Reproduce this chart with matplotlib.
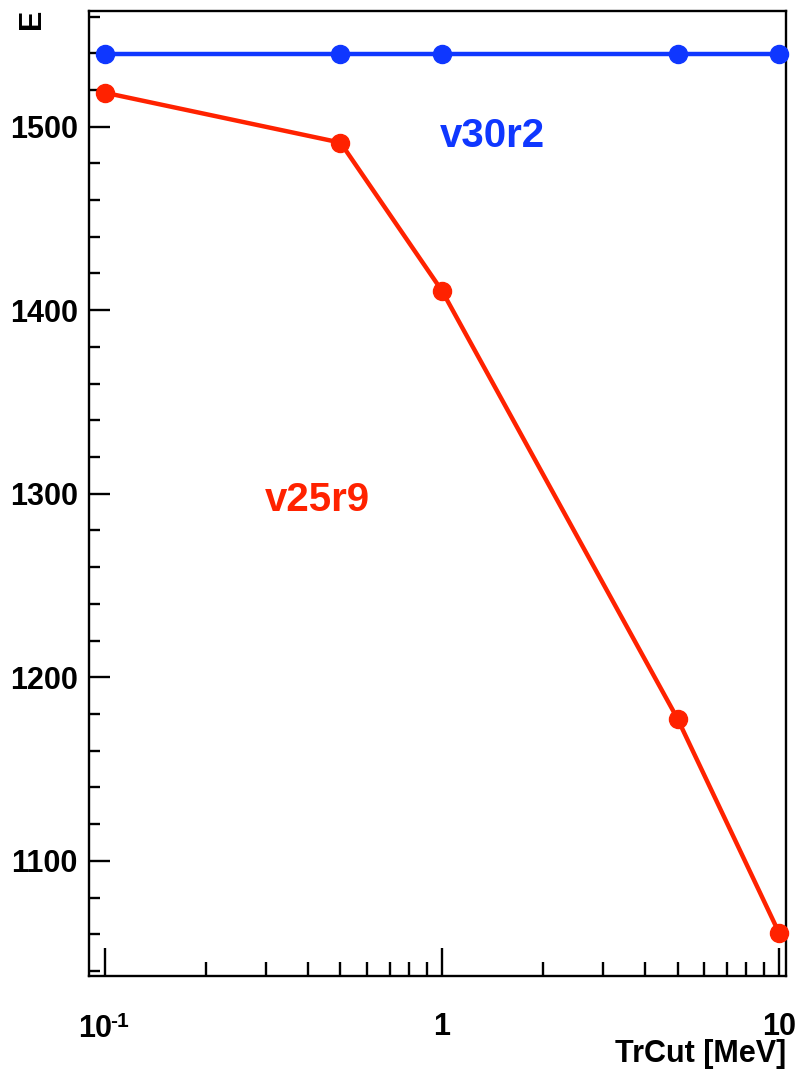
import numpy as np
import matplotlib
matplotlib.use("Agg")
import matplotlib.pyplot as plt
import matplotlib.transforms as mtransforms
from matplotlib.ticker import FixedLocator, MultipleLocator, NullFormatter

plt.rcParams['font.family'] = ['Liberation Sans', 'DejaVu Sans']
plt.rcParams['font.weight'] = 'bold'

# data
trcut = [0.1, 0.5, 1, 5, 10]
e_v30r2 = [1539.8, 1539.8, 1539.8, 1539.8, 1539.8]
e_v25r9 = [1518.5, 1491.3, 1410.6, 1177.4, 1060.8]
xtick_vals = [0.1, 1, 10]
xtick_text = ['', '1', '10']   # 10^-1 drawn by hand below (hyphen, not minus)

blue = '#0f37ff'
red = '#ff2200'

fig = plt.figure(figsize=(7.98, 10.70), dpi=100)
ax = fig.add_axes([0.1115, 0.0879, 0.9850 - 0.1115, 0.9897 - 0.0879])

ax.plot(trcut, e_v30r2, '-o', color=blue, lw=3.2, ms=13, clip_on=False, zorder=3)
ax.plot(trcut, e_v25r9, '-o', color=red, lw=3.2, ms=13, clip_on=False, zorder=3)

ax.set_xscale('log')
ax.set_xlim(0.0897, 10.49)
ax.set_ylim(1037.3, 1563)

# x ticks
ax.xaxis.set_major_locator(FixedLocator(xtick_vals))
ax.set_xticklabels(xtick_text)
minors = [m * d for d in (0.1, 1) for m in range(2, 10)]
ax.xaxis.set_minor_locator(FixedLocator(minors))
ax.xaxis.set_minor_formatter(NullFormatter())

# y ticks
ax.yaxis.set_major_locator(MultipleLocator(100))
ax.yaxis.set_minor_locator(MultipleLocator(20))

ax.tick_params(axis='x', which='major', direction='in', length=20, width=1.7,
               labelsize=22, pad=26, top=False)
ax.tick_params(axis='x', which='minor', direction='in', length=10, width=1.7, top=False)
ax.tick_params(axis='y', which='major', direction='in', length=15, width=1.7,
               labelsize=22, pad=8, right=False)
ax.tick_params(axis='y', which='minor', direction='in', length=8, width=1.7, right=False)
for lab in ax.get_xticklabels() + ax.get_yticklabels():
    lab.set_fontweight('bold')

for s in ax.spines.values():
    s.set_linewidth(1.7)

# 10^-1 label, ROOT style
trans = mtransforms.blended_transform_factory(ax.transData, fig.transFigure)
off = mtransforms.ScaledTranslation(-0.10, 0, fig.dpi_scale_trans)
ax.text(xtick_vals[0], 1 - 1037 / 1070, '10', fontsize=22, fontweight='bold',
        ha='center', va='baseline', transform=trans + off)
off2 = mtransforms.ScaledTranslation(0.05, 0, fig.dpi_scale_trans)
ax.text(xtick_vals[0], 1 - 1027 / 1070, '-1', fontsize=15, fontweight='bold',
        ha='left', va='baseline', transform=trans + off2)

fig.text(492 / 798, 1 - 136 / 1070, 'v30r2', color=blue, fontsize=29,
         fontweight='bold', ha='center', va='center')
fig.text(317 / 798, 1 - 500 / 1070, 'v25r9', color=red, fontsize=29,
         fontweight='bold', ha='center', va='center')

fig.text(786 / 798, 1 - 1062 / 1070, 'TrCut [MeV]', fontsize=22,
         fontweight='bold', ha='right', va='baseline')
fig.text(32 / 798, 1 - 9 / 1070, 'E', fontsize=22, fontweight='bold',
         rotation=90, ha='center', va='top')

fig.savefig('out.png', dpi=100)
